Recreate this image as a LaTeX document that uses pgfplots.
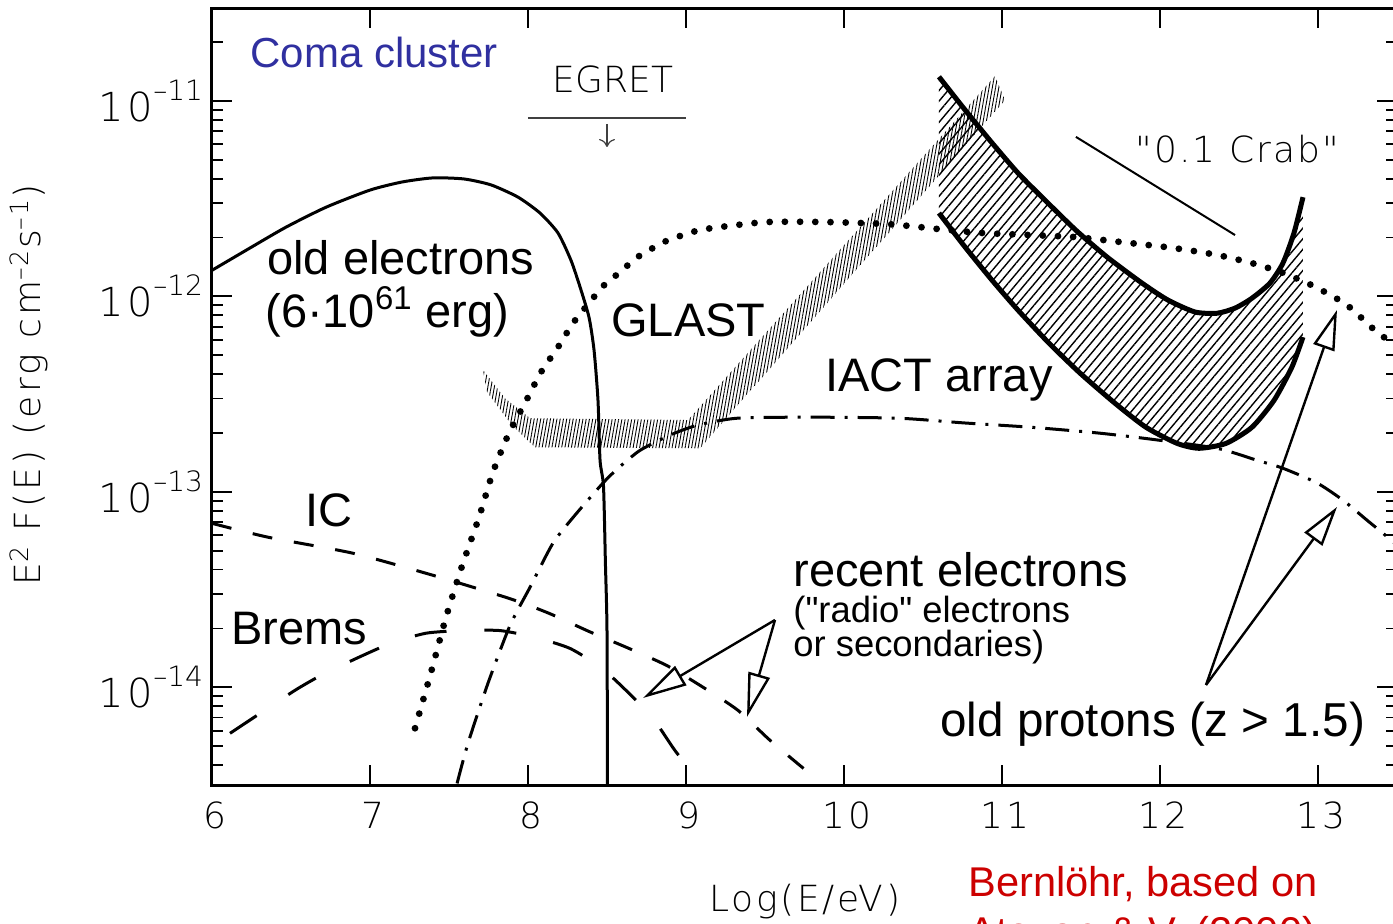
\documentclass[border=0pt]{standalone}
\usepackage{pgfplots}
\pgfplotsset{compat=1.18}
\usepackage{fontspec}
\setmainfont{Liberation Sans}
\newfontfamily\sansplain{Liberation Sans}
\newfontfamily\thinfont{DejaVuSans-ExtraLight.ttf}
\newfontfamily\thinwide{DejaVuSans-ExtraLight.ttf}[LetterSpace=9]
\usetikzlibrary{arrows.meta,patterns.meta}
\definecolor{comablue}{RGB}{48,48,160}
\definecolor{credred}{RGB}{204,0,0}
\newcommand{\tlab}[1]{\thinwide\fontsize{20pt}{20pt}\selectfont 10\raisebox{10.5pt}{\thinfont\fontsize{14pt}{14pt}\selectfont –#1}}
\begin{document}
\begin{tikzpicture}
\begin{axis}[
  at={(0,0)}, anchor=south west, scale only axis,
  width=592.5pt, height=388.5pt,
  xmin=6, xmax=13.5, ymode=log, ymin=3.16e-15, ymax=2.99e-11,
  axis line style={line width=1.5pt},
  tick align=inside, tick pos=both,
  major tick length=10pt, minor tick length=5.5pt,
  tick style={black, line width=0.9pt},
  xtick={6,7,8,9,10,11,12,13},
  xticklabels={6,7,8,9,10,11,12,13},
  xticklabel style={font=\thinwide\fontsize{18pt}{18pt}\selectfont, yshift=-5pt, xshift=1.5pt},
  ytick={1e-14,1e-13,1e-12,1e-11},
  yticklabels={\tlab{14},\tlab{13},\tlab{12},\tlab{11}},
  yticklabel style={xshift=-1pt},
  minor ytick={4e-15,5e-15,6e-15,7e-15,8e-15,9e-15,
    2e-14,3e-14,4e-14,5e-14,6e-14,7e-14,8e-14,9e-14,
    2e-13,3e-13,4e-13,5e-13,6e-13,7e-13,8e-13,9e-13,
    2e-12,3e-12,4e-12,5e-12,6e-12,7e-12,8e-12,9e-12,2e-11},
]
% GLAST sensitivity band
\addplot[draw=none, pattern={Lines[angle=80,distance=1.6pt,line width=0.45pt]}, pattern color=black]
 coordinates {(7.715,4.20e-13) (7.854,3.01e-13) (8.013,2.38e-13) (9.013,2.33e-13) (10.956,1.34e-11)
   (11.019,1.01e-11) (9.089,1.67e-13) (8.044,1.69e-13) (7.899,2.19e-13) (7.741,3.24e-13)} -- cycle;
% IACT band hatch
\addplot[draw=none, pattern={Lines[angle=50,distance=3.4pt,line width=0.7pt]}, pattern color=black]
 coordinates {(10.601,1.33e-11) (10.766,9.00e-12) (10.937,6.10e-12) (11.101,4.28e-12) (11.272,3.11e-12)
   (11.468,2.18e-12) (11.665,1.59e-12) (11.886,1.17e-12) (12.051,9.57e-13) (12.222,8.32e-13)
   (12.361,8.20e-13) (12.475,8.71e-13) (12.582,9.79e-13) (12.696,1.17e-12) (12.778,1.48e-12)
   (12.848,2.11e-12) (12.905,3.22e-12)
   (12.905,6.19e-13) (12.835,4.35e-13) (12.722,2.94e-13) (12.582,2.14e-13) (12.418,1.77e-13)
   (12.247,1.67e-13) (12.108,1.77e-13) (11.911,2.14e-13) (11.715,2.84e-13) (11.494,4.05e-13)
   (11.297,5.77e-13) (11.101,8.51e-13) (10.937,1.21e-12) (10.766,1.79e-12) (10.601,2.67e-12)} -- cycle;
% IACT outlines
\addplot[black, line width=2.5pt, smooth, tension=0.4]
 coordinates {(10.601,1.33e-11) (10.766,9.00e-12) (10.937,6.10e-12) (11.101,4.28e-12) (11.272,3.11e-12)
   (11.468,2.18e-12) (11.665,1.59e-12) (11.886,1.17e-12) (12.051,9.57e-13) (12.222,8.32e-13)
   (12.361,8.20e-13) (12.475,8.71e-13) (12.582,9.79e-13) (12.696,1.17e-12) (12.778,1.48e-12)
   (12.848,2.11e-12) (12.905,3.22e-12)};
\addplot[black, line width=2.5pt, smooth, tension=0.4]
 coordinates {(10.601,2.67e-12) (10.766,1.79e-12) (10.937,1.21e-12) (11.101,8.51e-13) (11.297,5.77e-13)
   (11.494,4.05e-13) (11.715,2.84e-13) (11.911,2.14e-13) (12.108,1.77e-13) (12.247,1.67e-13)
   (12.418,1.77e-13) (12.582,2.14e-13) (12.722,2.94e-13) (12.835,4.35e-13) (12.905,6.19e-13)};
% old electrons
\addplot[black, line width=1.5pt, smooth, tension=0.4]
 coordinates {(6.000,1.36e-12) (6.241,1.77e-12) (6.468,2.26e-12) (6.722,2.86e-12) (7.000,3.50e-12)
   (7.203,3.85e-12) (7.399,4.04e-12) (7.595,3.99e-12) (7.766,3.72e-12) (7.937,3.22e-12)
   (8.076,2.67e-12) (8.190,2.11e-12) (8.272,1.53e-12) (8.329,1.12e-12) (8.386,7.83e-13)
   (8.418,5.31e-13) (8.443,2.94e-13) (8.456,1.45e-13) (8.478,1.06e-13) (8.490,4.31e-14)
   (8.500,1.95e-14) (8.503,3.2e-15)};
% old protons (dotted)
\addplot[black, line width=3.4pt, line cap=round, dash pattern=on 0pt off 7.6pt, smooth, tension=0.4]
 coordinates {(7.285,6.17e-15) (7.386,1.19e-14) (7.481,2.28e-14) (7.582,4.16e-14) (7.690,7.41e-14)
   (7.778,1.26e-13) (7.880,2.00e-13) (7.987,2.91e-13) (8.082,4.09e-13) (8.190,5.50e-13)
   (8.285,7.30e-13) (8.386,9.24e-13) (8.481,1.14e-12) (8.582,1.33e-12) (8.684,1.57e-12)
   (8.791,1.77e-12) (8.886,1.94e-12) (8.981,2.06e-12) (9.063,2.16e-12) (9.171,2.24e-12)
   (9.506,2.40e-12) (9.899,2.40e-12) (10.291,2.34e-12) (10.601,2.21e-12) (10.880,2.11e-12)
   (11.184,2.06e-12) (11.468,2.01e-12) (11.747,1.90e-12) (12.082,1.77e-12) (12.361,1.63e-12)
   (12.582,1.48e-12) (12.778,1.32e-12) (12.981,1.12e-12) (13.184,9.02e-13) (13.380,6.49e-13)
   (13.500,5.64e-13)};
% old protons (dash-dot)
\addplot[black, line width=1.5pt, dash pattern=on 12pt off 5pt on 1.5pt off 5pt, smooth, tension=0.4]
 coordinates {(7.551,3.22e-15) (7.620,5.16e-15) (7.747,1.05e-14) (7.886,2.07e-14) (8.013,3.25e-14)
   (8.158,5.46e-14) (8.297,7.59e-14) (8.475,1.11e-13) (8.570,1.32e-13) (8.709,1.63e-13)
   (8.899,1.95e-13) (9.070,2.19e-13) (9.323,2.38e-13) (9.785,2.41e-13) (10.348,2.38e-13)
   (10.766,2.25e-13) (11.184,2.14e-13) (11.608,2.00e-13) (11.943,1.86e-13) (12.361,1.67e-13)
   (12.614,1.45e-13) (12.778,1.32e-13) (12.994,1.11e-13) (13.158,9.06e-14) (13.310,7.16e-14)
   (13.411,6.14e-14) (13.500,5.33e-14)};
% IC (dashed)
\addplot[black, line width=1.5pt, dash pattern=on 10pt off 11pt, smooth, tension=0.4]
 coordinates {(6.000,6.90e-14) (6.354,5.86e-14) (6.892,4.85e-14) (7.399,3.74e-14) (7.880,2.85e-14)
   (8.133,2.39e-14) (8.386,1.93e-14) (8.639,1.58e-14) (8.880,1.29e-14) (9.108,1.00e-14)
   (9.329,7.62e-15) (9.532,5.35e-15) (9.797,3.54e-15)};
% Brems (long dashed)
\addplot[black, line width=1.5pt, dash pattern=on 16pt off 19pt, smooth, tension=0.4]
 coordinates {(6.114,5.81e-15) (6.285,7.18e-15) (6.525,9.64e-15) (6.690,1.15e-14) (6.918,1.41e-14)
   (7.133,1.68e-14) (7.354,1.89e-14) (7.582,1.95e-14) (7.823,1.95e-14) (8.044,1.80e-14)
   (8.266,1.58e-14) (8.468,1.25e-14) (8.633,9.42e-15) (8.791,6.93e-15) (8.930,4.75e-15)
   (9.070,3.41e-15)};
% EGRET upper limit
\addplot[black!75, line width=1pt] coordinates {(8,8.18e-12) (9,8.18e-12)};
% 0.1 Crab
\addplot[black, line width=1pt] coordinates {(11.468,6.55e-12) (12.475,2.06e-12)};
\end{axis}
\begin{scope}[x=0.5pt, y=-0.5pt, shift={(-212,-785)}]
 \draw[black!75, line width=0.6pt, -{To[length=4pt,width=8pt]}] (607,124) -- (607,147);
 \node[anchor=base, inner sep=0pt, font=\thinfont\fontsize{18pt}{18pt}\selectfont] at (613,93) {EGRET};
 \node[anchor=base west, inner sep=0pt, font=\thinfont\fontsize{18pt}{18pt}\selectfont\addfontfeature{LetterSpace=6}] at (1135,163) {"0.1 Crab"};
 \node[anchor=base, inner sep=0pt, font=\thinfont\fontsize{18pt}{18pt}\selectfont\addfontfeature{LetterSpace=7}] at (805,912) {Log(E/eV)};
 \node[anchor=base, rotate=90, inner sep=0pt, font=\thinwide\fontsize{18pt}{18pt}\selectfont] at (41,385)
   {E\textsuperscript{2} F(E) (erg cm\textsuperscript{–2}s\textsuperscript{–1})};
 \node[anchor=base west, inner sep=0pt, text=comablue, font=\fontsize{21pt}{21pt}\selectfont] at (250,68) {Coma cluster};
 \node[anchor=base west, inner sep=0pt, font=\fontsize{23.5pt}{23.5pt}\selectfont] at (267,275) {old electrons};
 \node[anchor=base west, inner sep=0pt, font=\fontsize{23.5pt}{23.5pt}\selectfont] at (265,328) {(6·10\textsuperscript{61} erg)};
 \node[anchor=base west, inner sep=0pt, font=\fontsize{23.5pt}{23.5pt}\selectfont] at (611,337) {GLAST};
 \node[anchor=base west, inner sep=0pt, font=\fontsize{23.5pt}{23.5pt}\selectfont] at (825,392) {IACT array};
 \node[anchor=base west, inner sep=0pt, font=\fontsize{23.5pt}{23.5pt}\selectfont] at (305,527) {IC};
 \node[anchor=base west, inner sep=0pt, font=\fontsize{23.5pt}{23.5pt}\selectfont] at (231,645) {Brems};
 \node[anchor=base west, inner sep=0pt, font=\fontsize{23.5pt}{23.5pt}\selectfont] at (793,587) {recent electrons};
 \node[anchor=base west, inner sep=0pt, font=\sansplain\fontsize{18.2pt}{18.2pt}\selectfont] at (793,623) {("radio" electrons};
 \node[anchor=base west, inner sep=0pt, font=\fontsize{18.2pt}{18.2pt}\selectfont] at (793,657) {or secondaries)};
 \node[anchor=base west, inner sep=0pt, font=\fontsize{23.8pt}{23.8pt}\selectfont] at (940,737) {old protons (z > 1.5)};
 \node[anchor=base west, inner sep=0pt, text=credred, font=\fontsize{20.8pt}{20.8pt}\selectfont] at (968,897) {Bernlöhr, based on};
 \node[anchor=base west, inner sep=0pt, text=credred, font=\fontsize{20.8pt}{20.8pt}\selectfont] at (968,947) {Atoyan \& V. (2000)};
 \draw[line width=1.2pt, -{Triangle[open,length=22pt,width=11pt]}] (775,620) -- (643,698);
 \draw[line width=1.2pt, -{Triangle[open,length=22pt,width=11pt]}] (775,620) -- (747,717);
 \draw[line width=1.2pt, -{Triangle[open,length=20pt,width=11pt]}] (1206,685) -- (1337,310);
 \draw[line width=1.2pt, -{Triangle[open,length=20pt,width=11pt]}] (1206,685) -- (1337,507);
 \pgfresetboundingbox
 \path[use as bounding box] (0,0) rectangle (1393,924);
\end{scope}
\end{tikzpicture}
\end{document}
